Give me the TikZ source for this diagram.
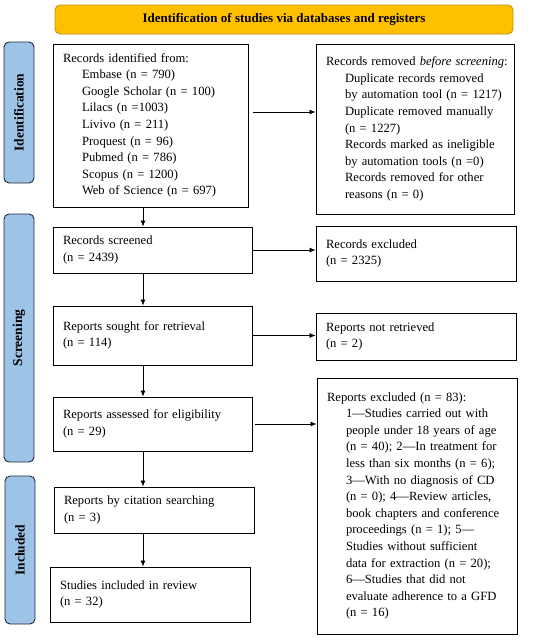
\documentclass[tikz,border=0pt]{standalone}
\usepackage{fontspec}
\setmainfont{Liberation Serif}
\usetikzlibrary{arrows.meta}

\definecolor{barfill}{RGB}{255,192,0}
\definecolor{bardraw}{RGB}{191,144,0}
\definecolor{sidefill}{RGB}{157,195,230}
\definecolor{sidedraw}{RGB}{31,40,60}

\newcommand{\indnt}{\hspace*{19pt}}

\tikzset{
  box/.style={draw, line width=0.9pt, align=left, inner xsep=10pt, inner ysep=0pt,
    font=\fontsize{12.6pt}{16.6pt}\selectfont},
  titlebar/.style={draw=bardraw, fill=barfill, rounded corners=5pt, line width=0.8pt,
    font=\fontsize{13pt}{15pt}\selectfont\bfseries},
  phase/.style={draw=sidedraw, fill=sidefill, rounded corners=5pt, line width=0.9pt,
    rotate=90, minimum height=30pt, inner sep=0pt,
    font=\fontsize{13.5pt}{15pt}\selectfont\bfseries},
  arr/.style={-{Latex[length=6pt,width=5pt]}, line width=0.7pt}
}

\begin{document}
\begin{tikzpicture}[x=1pt,y=-1pt]
    \useasboundingbox (0,0) rectangle (550,640);
    %\draw[help lines, step=50] (0,0) grid (550,640);

    \node[titlebar, minimum width=458pt, minimum height=29pt] (title) at (284,19.5)
      {Identification of studies via databases and registers};

    % phases on the left
    \node[phase, minimum width=141pt] (phid) at (19,112.5) {Identification};
    \node[phase, minimum width=248pt] (phscr) at (19,338) {Screening};
    \node[phase, minimum width=148pt] (phinc) at (20,550) {Included};

    % left column
    \node[box, text width=175pt, minimum height=163pt] (recid) at (150.5,125.5)
      {Records identified from:\\
       \indnt Embase (n = 790)\\
       \indnt Google Scholar (n = 100)\\
       \indnt Lilacs (n =1003)\\
       \indnt Livivo (n = 211)\\
       \indnt Proquest (n = 96)\\
       \indnt Pubmed (n = 786)\\
       \indnt Scopus (n = 1200)\\
       \indnt Web of Science (n = 697)};
    \node[box, text width=179pt, minimum height=46pt] (scr) at (152.5,250)
      {Records screened\\(n = 2439)};
    \node[box, text width=179pt, minimum height=59pt] (sought) at (152.5,335.5)
      {Reports sought for retrieval\\(n = 114)};
    \node[box, text width=179pt, minimum height=54pt] (assess) at (152.5,424)
      {Reports assessed for eligibility\\(n = 29)};
    \node[box, text width=180pt, minimum height=46pt] (cit) at (154,510)
      {Reports by citation searching\\(n = 3)};
    \node[box, text width=180pt, minimum height=55pt] (incl) at (150,594.5)
      {Studies included in review\\(n = 32)};

    % right column
    \node[box, text width=178pt, minimum height=170pt] (recrem) at (415,129)
      {\mbox{Records removed \emph{before screening}:}\\
       \indnt Duplicate records removed\\
       \indnt by automation tool (n = 1217)\\
       \indnt Duplicate removed manually\\
       \indnt (n = 1227)\\
       \indnt Records marked as ineligible\\
       \indnt by automation tools (n =0)\\
       \indnt Records removed for other\\
       \indnt reasons (n = 0)};
    \node[box, text width=180pt, minimum height=55pt] (excl) at (416,253.5)
      {Records excluded\\(n = 2325)};
    \node[box, text width=180pt, minimum height=47pt] (notret) at (416,336.5)
      {Reports not retrieved\\(n = 2)};
    \node[box, text width=180pt, minimum height=256pt] (repexcl) at (417,506)
      {Reports excluded (n = 83):\\
       \indnt 1---Studies carried out with\\
       \indnt people under 18 years of age\\
       \indnt (n = 40); 2---In treatment for\\
       \indnt less than six months (n = 6);\\
       \indnt 3---With no diagnosis of CD\\
       \indnt (n = 0); 4---Review articles,\\
       \indnt book chapters and conference\\
       \indnt proceedings (n = 1); 5---\\
       \indnt Studies without sufficient\\
       \indnt data for extraction (n = 20);\\
       \indnt 6---Studies that did not\\
       \indnt evaluate adherence to a GFD\\
       \indnt (n = 16)};

    % arrows
    \coordinate (spine) at (143,0);
    \draw[arr] ([xshift=5pt,yshift=13.5pt]recid.east) -- ([yshift=13.5pt]recid.east -| recrem.west);
    \draw[arr] ([xshift=1pt]scr.east) -- (scr.east -| excl.west);
    \draw[arr] ([xshift=1pt]sought.east) -- (sought.east -| notret.west);
    \draw[arr] ([xshift=3pt]assess.east) -- (assess.east -| repexcl.west);
    \draw[arr] (recid.south -| spine) -- (scr.north -| spine);
    \draw[arr] (scr.south -| spine) -- (sought.north -| spine);
    \draw[arr] (sought.south -| spine) -- (assess.north -| spine);
    \draw[arr] (assess.south -| spine) -- (cit.north -| spine);
    \draw[arr] (cit.south -| spine) -- (incl.north -| spine);
\end{tikzpicture}
\end{document}
